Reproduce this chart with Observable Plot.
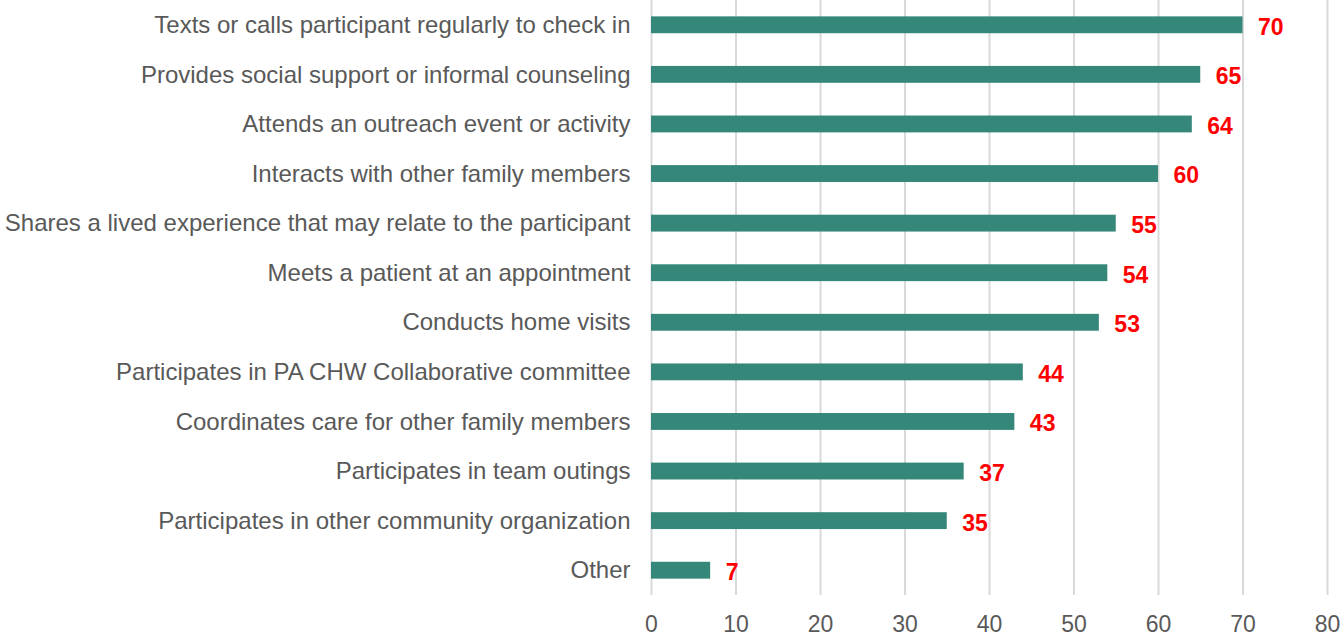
<!DOCTYPE html>
<html>
<head>
<meta charset="utf-8">
<script src="https://cdn.jsdelivr.net/npm/d3@7"></script>
<script src="https://cdn.jsdelivr.net/npm/@observablehq/plot@0.6"></script>
<style>
  html, body { margin: 0; padding: 0; background: #fff; }
  #chart svg { display: block; }
</style>
</head>
<body>
<div id="chart"></div>
<script>
const categories = [
  "Texts or calls participant regularly to check in",
  "Provides social support or informal counseling",
  "Attends an outreach event or activity",
  "Interacts with other family members",
  "Shares a lived experience that may relate to the participant",
  "Meets a patient at an appointment",
  "Conducts home visits",
  "Participates in PA CHW Collaborative committee",
  "Coordinates care for other family members",
  "Participates in team outings",
  "Participates in other community organization",
  "Other"
];
const values = [70, 65, 64, 60, 55, 54, 53, 44, 43, 37, 35, 7];
const xTicks = [0, 10, 20, 30, 40, 50, 60, 70, 80];

const data = categories.map((c, i) => ({category: c, value: values[i]}));

const chart = Plot.plot({
  width: 1343,
  height: 636,
  marginLeft: 651,
  marginRight: 16,
  marginTop: 0,
  marginBottom: 41,
  style: {fontFamily: "'Liberation Sans', Arial, sans-serif", fontSize: "24px", color: "#595959", background: "#fff"},
  x: {domain: [0, 80], ticks: xTicks, label: null},
  y: {domain: categories, label: null, paddingInner: 0.66, paddingOuter: 0.33, round: false},
  marks: [
    Plot.gridX(xTicks, {stroke: "#d9d9d9", strokeOpacity: 1, strokeWidth: 2}),
    Plot.barX(data, {x: "value", y: "category", fill: "#358779"}),
    Plot.text(data, {x: "value", y: "category", text: d => String(d.value), textAnchor: "start", dx: 15, dy: 2, fill: "#ff0000", fontWeight: "bold", fontSize: 23}),
    Plot.axisX(xTicks, {tickSize: 0, tickPadding: 20, fontSize: 23, fill: "#595959", label: null}),
    Plot.axisY({tickSize: 0, tickPadding: 21, fontSize: 24, fill: "#595959", label: null})
  ]
});
document.getElementById("chart").appendChild(chart);
</script>
</body>
</html>
